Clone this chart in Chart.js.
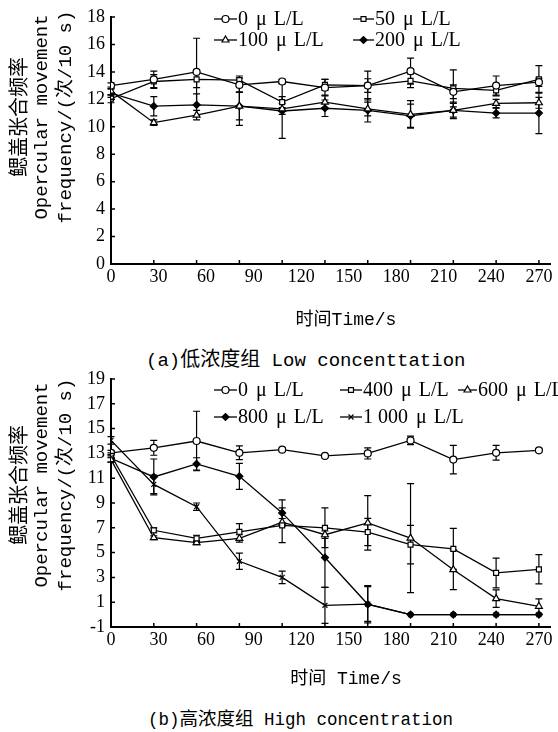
<!DOCTYPE html>
<html>
<head>
<meta charset="utf-8">
<script src="https://cdn.jsdelivr.net/npm/chart.js@4.4.0/dist/chart.umd.min.js"></script>
<style>
  body { margin: 0; background: #fff; }
  #wrap { position: relative; width: 558px; height: 732px; overflow: hidden; }
  #wrap canvas { position: absolute; left: 0; }
  .cap { position: absolute; white-space: nowrap; color: #000; font-family: "Liberation Mono", monospace; }
  .cap .zh { font-family: "Noto Sans CJK SC", sans-serif; }
</style>
</head>
<body>
<div id="wrap">
  <canvas id="chartA" width="558" height="335" style="top:0"></canvas>
  <div class="cap" style="left:146px; top:345px; font-size:19px; line-height:26px;">(a)<span class="zh" style="font-size:20px">低浓度组</span> Low concenttation</div>
  <canvas id="chartB" width="558" height="334" style="top:360px"></canvas>
  <div class="cap" style="left:148px; top:704px; font-size:17.5px; line-height:26px;">(b)<span class="zh" style="font-size:18.5px">高浓度组</span> High concentration</div>
</div>
<script>
// time points (s) and axis labels
var times = [0, 27, 54, 81, 108, 135, 162, 189, 216, 243, 270];
var timeTicks = [0, 30, 60, 90, 120, 150, 180, 210, 240, 270];

// (a) low concentration group
var ctrlA = [13.0, 13.45, 14.0, 13.05, 13.3, 12.85, 13.0, 14.05, 12.55, 13.0, 13.25];
var ctrlAErr = [0.2, 0.6, 2.45, 0.5, 0.15, 0.6, 1.05, 0.95, 0.5, 0.7, 0.3];
var low50 = [12.05, 13.3, 13.45, 13.4, 11.8, 13.05, 13.0, 13.35, 12.8, 12.65, 13.45];
var low50Err = [0.3, 0.5, 0.6, 0.3, 0.4, 0.4, 0.5, 0.5, 1.35, 0.4, 1.0];
var low100 = [12.6, 10.3, 10.85, 11.5, 11.3, 11.8, 11.3, 10.9, 11.2, 11.7, 11.75];
var low100Err = [0.3, 0.2, 0.35, 1.0, 0.4, 0.5, 0.5, 1.0, 0.5, 0.3, 0.4];
var low200 = [12.45, 11.5, 11.6, 11.5, 11.15, 11.35, 11.2, 10.8, 11.2, 11.0, 11.0];
var low200Err = [0.3, 0.7, 0.8, 1.4, 2.0, 0.6, 0.85, 0.85, 0.6, 0.35, 1.5];

// (b) high concentration group
var ctrlB = [13.05, 13.45, 14.0, 13.05, 13.3, 12.8, 13.0, 14.05, 12.5, 13.05, 13.25];
var ctrlBErr = [0.2, 0.6, 2.4, 0.55, 0.1, 0.1, 0.45, 0.35, 1.15, 0.6, 0.1];
var high400 = [12.85, 6.8, 6.15, 6.68, 7.2, 7.0, 6.66, 5.64, 5.3, 3.36, 3.65];
var high400Err = [0.2, 0.2, 0.25, 0.65, 1.4, 1.6, 1.1, 1.55, 1.65, 1.2, 1.18];
var high600 = [12.5, 6.2, 5.8, 6.14, 7.45, 6.44, 7.4, 6.17, 3.62, 1.29, 0.67];
var high600Err = [0.2, 0.15, 0.15, 0.3, 0.3, 0.3, 2.2, 4.4, 1.6, 0.7, 0.6];
var high800 = [12.6, 11.1, 12.15, 11.15, 8.2, 4.6, 0.83, 0, 0, 0, 0];
var high800Err = [0.3, 1.45, 0.5, 1.05, 1.05, 2.4, 1.5, 0, 0, 0, 0];
var high1000 = [14.05, 10.5, 8.7, 4.3, 3.0, 0.75, 0.85, 0, 0, 0, 0];
var high1000Err = [0.3, 0.75, 0.3, 0.65, 0.5, 1.45, 1.4, 0, 0, 0, 0];

var yTitle = ["鳃盖张合频率", "Opercular movement", "frequency/(次/10 s)"];
var monoFont = '"Liberation Mono", "Noto Sans CJK SC", monospace';
var cjkFont = '"Noto Sans CJK SC", sans-serif';

function pts(vals) {
  return vals.map(function(v, i) { return { x: times[i], y: v }; });
}

function series(label, vals, errs, style, radius, fill) {
  return {
    label: label,
    data: pts(vals),
    errors: errs,
    borderColor: '#000',
    borderWidth: 1.3,
    pointStyle: style,
    pointRadius: radius,
    pointBorderWidth: 1.2,
    pointBorderColor: '#000',
    pointBackgroundColor: fill,
    tension: 0
  };
}

function mark(ctx, style, radius, fill, x, y) {
  ctx.fillStyle = fill;
  ctx.strokeStyle = '#000';
  ctx.lineWidth = 1.2;
  if (Chart.helpers && Chart.helpers.drawPoint) {
    Chart.helpers.drawPoint(ctx, { pointStyle: style, radius: radius, borderWidth: 1.2, rotation: 0 }, x, y);
  } else {
    ctx.beginPath(); ctx.arc(x, y, radius, 0, Math.PI * 2); ctx.fill(); ctx.stroke();
  }
}

// legend label; the micro sign is set wide like in the print
function legendText(ctx, text, x, y) {
  var parts = text.split('μ');
  ctx.fillText(parts[0], x, y);
  x += ctx.measureText(parts[0]).width + 3;
  ctx.fillText('μ', x, y);
  x += ctx.measureText('μ').width + 7;
  ctx.fillText(parts[1], x, y);
}

// error bars, drawn under the points
var errorBars = {
  id: 'errorBars',
  beforeDatasetsDraw: function(chart) {
    var ctx = chart.ctx, xs = chart.scales.x, ys = chart.scales.y;
    ctx.save();
    ctx.strokeStyle = '#000';
    ctx.lineWidth = 1.2;
    chart.data.datasets.forEach(function(ds) {
      ds.data.forEach(function(p, i) {
        var e = ds.errors[i];
        if (!e) return;
        var px = xs.getPixelForValue(p.x);
        var top = ys.getPixelForValue(p.y + e);
        var bot = ys.getPixelForValue(p.y - e);
        ctx.beginPath();
        ctx.moveTo(px, top); ctx.lineTo(px, bot);
        ctx.moveTo(px - 3.5, top); ctx.lineTo(px + 3.5, top);
        ctx.moveTo(px - 3.5, bot); ctx.lineTo(px + 3.5, bot);
        ctx.stroke();
      });
    });
    ctx.restore();
  }
};

// inward tick marks, legend and axis titles
var decor = {
  id: 'decor',
  afterDraw: function(chart, args, opts) {
    var ctx = chart.ctx, xs = chart.scales.x, ys = chart.scales.y;
    ctx.save();
    ctx.strokeStyle = '#000';
    ctx.lineWidth = 1.5;
    ctx.beginPath();
    times.forEach(function(t) {
      var px = xs.getPixelForValue(t);
      ctx.moveTo(px, ys.bottom); ctx.lineTo(px, ys.bottom - 4);
    });
    ys.ticks.forEach(function(t) {
      var py = ys.getPixelForValue(t.value);
      ctx.moveTo(xs.left, py); ctx.lineTo(xs.left + 4, py);
    });
    ctx.stroke();

    // legend
    ctx.font = '20px "Liberation Serif"';
    ctx.textBaseline = 'middle';
    ctx.textAlign = 'left';
    chart.data.datasets.forEach(function(ds, i) {
      var pos = opts.legend[i];
      ctx.strokeStyle = '#000';
      ctx.lineWidth = 1.3;
      ctx.beginPath();
      ctx.moveTo(pos[0], pos[1]); ctx.lineTo(pos[0] + pos[2], pos[1]);
      ctx.stroke();
      mark(ctx, ds.pointStyle, ds.pointRadius, ds.pointBackgroundColor, pos[0] + pos[2] / 2, pos[1]);
      ctx.fillStyle = '#000';
      legendText(ctx, ds.label, pos[0] + pos[2] + 1, pos[1] + 1);
    });

    // y title, three rotated lines
    ctx.fillStyle = '#000';
    ctx.textAlign = 'center';
    var xc = [18, 42, 66];
    yTitle.forEach(function(line, i) {
      ctx.save();
      ctx.translate(xc[i], opts.titleY);
      ctx.rotate(-Math.PI / 2);
      ctx.font = i === 0 ? '20px ' + cjkFont : '19px ' + monoFont;
      ctx.fillText(line, 0, 0);
      ctx.restore();
    });

    // x title
    ctx.font = '18px ' + monoFont;
    ctx.fillText(opts.xTitle, 346, opts.xTitleY);
    ctx.restore();
  }
};

function makeChart(id, datasets, yMin, yMax, canvasH, plotBottom, decorOpts) {
  var ctx = document.getElementById(id).getContext('2d');
  return new Chart(ctx, {
    type: 'line',
    data: { datasets: datasets },
    options: {
      responsive: false,
      animation: false,
      layout: { padding: { top: decorOpts.top, right: 8, left: 0, bottom: 0 } },
      plugins: { legend: { display: false }, tooltip: { enabled: false }, decor: decorOpts },
      scales: {
        x: {
          type: 'linear',
          min: 0,
          max: 277,
          afterBuildTicks: function(scale) {
            scale.ticks = timeTicks.map(function(v) { return { value: v }; });
          },
          afterFit: function(scale) { scale.height = canvasH - plotBottom; },
          grid: { display: false, drawTicks: false },
          border: { display: true, color: '#000', width: 2 },
          ticks: { color: '#000', padding: 2, maxRotation: 0, font: { family: '"Liberation Serif"', size: 18 } }
        },
        y: {
          min: yMin,
          max: yMax,
          afterFit: function(scale) { scale.width = 111; },
          grid: { display: false, drawTicks: false },
          border: { display: true, color: '#000', width: 2 },
          ticks: { color: '#000', stepSize: 2, padding: 6, font: { family: '"Liberation Serif"', size: 18 } }
        }
      }
    },
    plugins: [errorBars, decor]
  });
}

makeChart('chartA', [
  series('0 μL/L', ctrlA, ctrlAErr, 'circle', 3.5, '#fff'),
  series('50 μL/L', low50, low50Err, 'rect', 3.5, '#fff'),
  series('100 μL/L', low100, low100Err, 'triangle', 4, '#fff'),
  series('200 μL/L', low200, low200Err, 'rectRot', 3.5, '#000')
], 0, 18, 335, 264, {
  top: 17,
  legend: [[214, 19, 23], [353, 19, 21], [214, 40, 23], [353, 40, 21]],
  titleY: 117,
  xTitle: '时间Time/s',
  xTitleY: 320
});

makeChart('chartB', [
  series('0 μL/L', ctrlB, ctrlBErr, 'circle', 3.5, '#fff'),
  series('400 μL/L', high400, high400Err, 'rect', 3.5, '#fff'),
  series('600 μL/L', high600, high600Err, 'triangle', 4, '#fff'),
  series('800 μL/L', high800, high800Err, 'rectRot', 3.5, '#000'),
  series('1 000 μL/L', high1000, high1000Err, 'crossRot', 3.5, '#000')
], -1, 19, 334, 267, {
  top: 19,
  legend: [[214, 30, 23], [340, 30, 22], [458, 30, 19], [214, 57, 23], [340, 57, 22]],
  titleY: 125,
  xTitle: '时间 Time/s',
  xTitleY: 319
});
</script>
</body>
</html>
